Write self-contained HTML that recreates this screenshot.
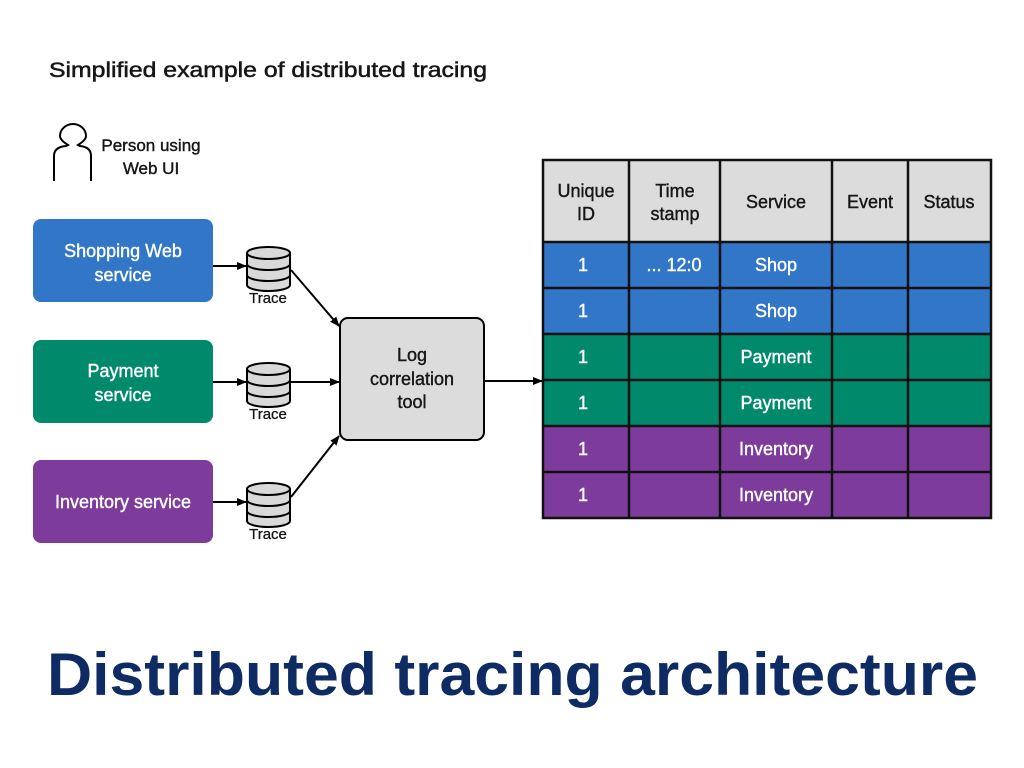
<!DOCTYPE html>
<html><head><meta charset="utf-8"><style>html,body{margin:0;padding:0;background:#fff}svg{display:block}</style></head>
<body>
<svg width="1024" height="768" viewBox="0 0 1024 768" xmlns="http://www.w3.org/2000/svg" font-family="Liberation Sans, sans-serif">
<defs>
<marker id="ah" markerWidth="10" markerHeight="8" refX="9" refY="4" orient="auto" markerUnits="userSpaceOnUse"><path d="M0,0 L10,4 L0,8 z" fill="#000"/></marker>
<g id="cyl">
<path d="M0,10 v32 a21.5,6 0 0 0 43,0 v-32" fill="#d9d9d9" stroke="#000" stroke-width="2"/>
<path d="M0,21 a21.5,6 0 0 0 43,0 M0,32 a21.5,6 0 0 0 43,0" fill="none" stroke="#000" stroke-width="2"/>
<ellipse cx="21.5" cy="10" rx="21.5" ry="6" fill="#d9d9d9" stroke="#000" stroke-width="2"/>
</g>
</defs>
<text x="49" y="77" font-size="21" fill="#161616" stroke="#161616" stroke-width="0.5" textLength="438" lengthAdjust="spacingAndGlyphs">Simplified example of distributed tracing</text>
<!-- person -->
<path d="M54,181 V155 Q54,146 64,144 Q60,141 61,145 M54,181" fill="none" stroke="none"/>
<path d="M54,181 V156 Q54,147 66,146 L68,145 Q60,140 60,136 A13,12 0 1 1 86,136 Q86,140 78,145 L80,146 Q91,147 91,156 V181" fill="none" stroke="#000" stroke-width="2"/>
<g font-size="17" text-anchor="middle" fill="#161616" stroke="#161616" stroke-width="0.4">
<text x="151" y="151">Person using</text>
<text x="151" y="174">Web UI</text>
</g>
<!-- service boxes -->
<g font-size="18" text-anchor="middle" fill="#fff" stroke="#fff" stroke-width="0.4">
<rect x="33" y="219" width="180" height="83" rx="8" fill="#3276c8" stroke="none"/>
<text x="123" y="257">Shopping Web</text>
<text x="123" y="281">service</text>
<rect x="33" y="340" width="180" height="83" rx="8" fill="#00896b" stroke="none"/>
<text x="123" y="377">Payment</text>
<text x="123" y="401">service</text>
<rect x="33" y="460" width="180" height="83" rx="8" fill="#7d3c9c" stroke="none"/>
<text x="123" y="508">Inventory service</text>
</g>
<!-- arrows to cylinders -->
<line x1="213" y1="266" x2="246" y2="266" stroke="#000" stroke-width="2" marker-end="url(#ah)"/>
<line x1="213" y1="382" x2="246" y2="382" stroke="#000" stroke-width="2" marker-end="url(#ah)"/>
<line x1="213" y1="502" x2="246" y2="502" stroke="#000" stroke-width="2" marker-end="url(#ah)"/>
<use href="#cyl" x="247" y="243"/>
<use href="#cyl" x="247" y="359"/>
<use href="#cyl" x="247" y="479"/>
<g font-size="15" text-anchor="middle" fill="#161616" stroke="#161616" stroke-width="0.3">
<text x="268" y="303">Trace</text>
<text x="268" y="419">Trace</text>
<text x="268" y="539">Trace</text>
</g>
<!-- arrows to log tool -->
<line x1="291" y1="270" x2="339" y2="326" stroke="#000" stroke-width="2" marker-end="url(#ah)"/>
<line x1="291" y1="382" x2="339" y2="382" stroke="#000" stroke-width="2" marker-end="url(#ah)"/>
<line x1="291" y1="497" x2="339" y2="436" stroke="#000" stroke-width="2" marker-end="url(#ah)"/>
<rect x="340" y="318" width="144" height="122" rx="8" fill="#dcdcdc" stroke="#000" stroke-width="2"/>
<g font-size="18" text-anchor="middle" fill="#161616" stroke="#161616" stroke-width="0.4">
<text x="412" y="361">Log</text>
<text x="412" y="385">correlation</text>
<text x="412" y="408">tool</text>
</g>
<line x1="484" y1="381" x2="542" y2="381" stroke="#000" stroke-width="2" marker-end="url(#ah)"/>
<!-- table -->
<rect x="543" y="160" width="448" height="82" fill="#dcdcdc"/>
<rect x="543" y="242" width="448" height="92" fill="#3276c8"/>
<rect x="543" y="334" width="448" height="92" fill="#00896b"/>
<rect x="543" y="426" width="448" height="92" fill="#7d3c9c"/>
<g stroke="#111" stroke-width="2.5" fill="none">
<rect x="543" y="160" width="448" height="358"/>
<line x1="629" y1="160" x2="629" y2="518"/><line x1="720" y1="160" x2="720" y2="518"/>
<line x1="832" y1="160" x2="832" y2="518"/><line x1="908" y1="160" x2="908" y2="518"/>
<line x1="543" y1="242" x2="991" y2="242"/><line x1="543" y1="288" x2="991" y2="288"/>
<line x1="543" y1="334" x2="991" y2="334"/><line x1="543" y1="380" x2="991" y2="380"/>
<line x1="543" y1="426" x2="991" y2="426"/><line x1="543" y1="472" x2="991" y2="472"/>
</g>
<g font-size="18" text-anchor="middle" fill="#161616" stroke="#161616" stroke-width="0.4">
<text x="586" y="197">Unique</text><text x="586" y="220">ID</text>
<text x="675" y="197">Time</text><text x="675" y="220">stamp</text>
<text x="776" y="208">Service</text><text x="870" y="208">Event</text><text x="949" y="208">Status</text>
</g>
<g font-size="18" text-anchor="middle" fill="#fff" stroke="#fff" stroke-width="0.4">
<text x="583" y="271">1</text><text x="674" y="271">... 12:0</text><text x="776" y="271">Shop</text>
<text x="583" y="317">1</text><text x="776" y="317">Shop</text>
<text x="583" y="363">1</text><text x="776" y="363">Payment</text>
<text x="583" y="409">1</text><text x="776" y="409">Payment</text>
<text x="583" y="455">1</text><text x="776" y="455">Inventory</text>
<text x="583" y="501">1</text><text x="776" y="501">Inventory</text>
</g>
<text x="47" y="695" font-size="60" font-weight="bold" fill="#0f2b63" textLength="931" lengthAdjust="spacingAndGlyphs">Distributed tracing architecture</text>
</svg>
</body></html>
